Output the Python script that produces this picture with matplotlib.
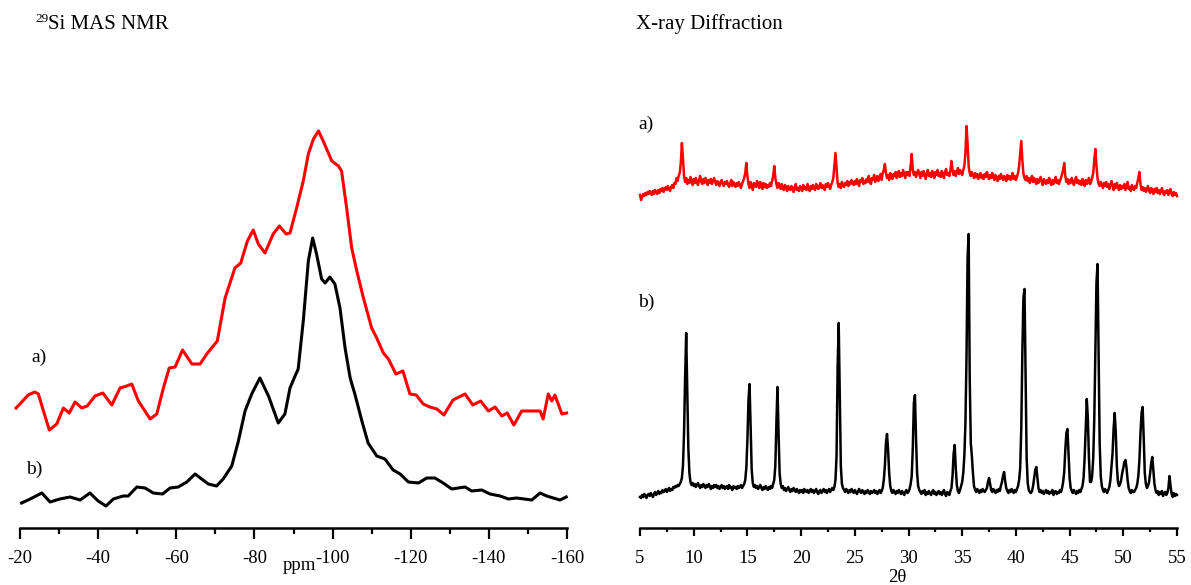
import numpy as np
import matplotlib
matplotlib.use("Agg")
import matplotlib.pyplot as plt
from matplotlib.ticker import MultipleLocator

plt.rcParams['font.family'] = ['Liberation Serif', 'DejaVu Serif']
plt.rcParams['axes.unicode_minus'] = False

# 29Si MAS NMR, sample a) (red, drawn with an offset)
nmr_ppm_a = [-19.0, -22.1, -23.8, -24.7, -26.0, -27.5, -29.4, -31.1, -32.6, -34.1,
             -35.8, -37.2, -39.2, -41.2, -43.5, -45.6, -47.3, -48.6, -50.3, -53.3,
             -55.0, -56.7, -58.2, -59.7, -61.6, -64.0, -66.1, -67.8, -70.5, -72.5,
             -75.0, -76.5, -78.2, -79.7, -81.0, -82.7, -84.8, -86.4, -88.1, -89.1,
             -90.8, -92.5, -93.8, -95.1, -96.4, -97.6, -99.8, -101.5, -102.3, -103.6,
             -104.9, -106.2, -107.9, -110.0, -111.3, -113.0, -114.3, -116.2, -118.0, -119.8,
             -121.4, -123.2, -124.9, -126.7, -128.5, -130.8, -133.9, -135.9, -137.9, -139.9,
             -141.6, -143.3, -144.7, -146.4, -148.4, -153.1, -153.9, -155.2, -156.1, -156.9,
             -158.7, -159.9]
nmr_int_a = [40, 53, 56, 54, 37, 18, 24, 40, 35, 46,
             40, 42, 52, 55, 43, 60, 62, 64, 47, 29,
             34, 60, 80, 81, 98, 84, 84, 94, 107, 150,
             180, 185, 207, 218, 204, 195, 214, 222, 214, 215,
             240, 267, 294, 309, 317, 307, 287, 282, 277, 240,
             200, 177, 150, 120, 110, 95, 89, 74, 77, 54,
             53, 44, 41, 39, 33, 48, 54, 43, 47, 37,
             41, 32, 35, 23, 37, 37, 29, 54, 47, 53,
             34, 35]

# 29Si MAS NMR, sample b) (black)
nmr_ppm_b = [-20.4, -22.6, -25.6, -27.7, -30.2, -32.8, -35.4, -37.9, -40.0, -42.0,
             -43.9, -46.4, -47.7, -49.9, -52.0, -54.1, -56.5, -58.4, -60.5, -62.7,
             -64.8, -66.5, -68.2, -70.3, -72.0, -74.2, -75.9, -77.6, -79.3, -81.4,
             -83.6, -86.1, -87.8, -89.1, -90.4, -91.2, -92.5, -93.8, -94.9, -95.9,
             -97.2, -98.1, -99.3, -100.6, -101.9, -103.2, -104.5, -105.7, -107.5, -109.1,
             -111.3, -113.4, -115.5, -117.3, -119.4, -122.0, -124.1, -126.2, -128.3, -130.5,
             -133.9, -135.6, -138.2, -140.3, -142.9, -145.0, -147.1, -151.0, -153.1, -154.8,
             -156.5, -158.2, -159.8]
nmr_int_b = [25, 29, 35, 26, 29, 31, 28, 35, 27, 22,
             29, 32, 32, 41, 40, 35, 34, 40, 41, 46,
             54, 49, 44, 42, 49, 62, 87, 117, 134, 150,
             132, 105, 114, 140, 152, 159, 207, 267, 290, 274,
             249, 245, 251, 244, 220, 180, 150, 134, 107, 85,
             72, 69, 58, 54, 46, 45, 50, 50, 45, 39,
             41, 37, 38, 34, 32, 29, 30, 28, 35, 32,
             30, 28, 31]

# XRD, 2theta from 5 to 55 in steps of 0.1 degree
two_theta = np.linspace(5, 55, 501)

xrd_a = [33, 28, 31, 34, 32, 35, 33, 36, 34, 37,
         35, 33, 37, 34, 38, 36, 34, 38, 35, 39,
         37, 40, 36, 39, 41, 38, 42, 39, 37, 41,
         43, 40, 45, 44, 50, 47, 52, 55, 65, 85,
         70, 52, 46, 50, 44, 48, 45, 51, 47, 43,
         49, 45, 50, 46, 43, 48, 52, 46, 44, 49,
         45, 50, 47, 43, 48, 45, 49, 44, 47, 50,
         46, 43, 47, 45, 42, 46, 48, 44, 42, 46,
         44, 47, 43, 41, 45, 48, 42, 46, 44, 41,
         45, 42, 46, 43, 40, 44, 47, 50, 55, 65,
         52, 44, 40, 46, 42, 38, 45, 43, 41, 47,
         44, 40, 46, 42, 39, 45, 41, 44, 40, 43,
         41, 45, 42, 47, 52, 62, 50, 44, 40, 45,
         42, 39, 44, 40, 38, 43, 41, 37, 42, 40,
         38, 42, 39, 36, 41, 44, 38, 40, 37, 42,
         40, 37, 43, 39, 41, 38, 44, 40, 37, 42,
         39, 43, 40, 38, 44, 41, 39, 42, 45, 40,
         43, 40, 38, 44, 41, 45, 42, 39, 43, 46,
         50, 62, 75, 60, 45, 41, 44, 40, 46, 43,
         41, 45, 43, 47, 42, 46, 44, 48, 45, 43,
         47, 44, 49, 45, 42, 48, 46, 50, 44, 47,
         45, 49, 46, 52, 47, 44, 50, 48, 53, 46,
         49, 52, 47, 50, 54, 48, 55, 58, 64, 55,
         50, 53, 48, 55, 51, 49, 54, 52, 56, 50,
         53, 57, 51, 55, 52, 58, 54, 50, 56, 53,
         56, 52, 62, 74, 58, 53, 56, 51, 55, 58,
         54, 50, 56, 52, 57, 53, 49, 55, 58, 52,
         55, 51, 57, 54, 50, 56, 53, 58, 52, 55,
         51, 57, 54, 50, 56, 59, 53, 55, 52, 57,
         67, 58, 53, 57, 52, 56, 60, 54, 58, 55,
         53, 58, 62, 75, 102, 85, 62, 55, 52, 56,
         53, 50, 55, 51, 54, 49, 52, 55, 50, 53,
         49, 54, 51, 56, 52, 49, 53, 50, 55, 51,
         48, 53, 50, 47, 52, 49, 54, 51, 48, 52,
         50, 47, 53, 49, 52, 48, 51, 55, 49, 52,
         48, 51, 55, 62, 75, 87, 68, 54, 50, 48,
         52, 47, 50, 45, 49, 52, 46, 50, 47, 44,
         49, 45, 48, 51, 46, 43, 49, 47, 44, 48,
         45, 50, 46, 43, 48, 44, 47, 51, 45, 48,
         44, 47, 50, 54, 58, 65, 52, 46, 49, 44,
         48, 45, 50, 46, 43, 47, 51, 45, 48, 44,
         47, 43, 49, 45, 42, 48, 44, 46, 50, 44,
         46, 50, 55, 68, 79, 62, 50, 44, 42, 46,
         43, 40, 45, 42, 46, 41, 44, 39, 43, 47,
         42, 38, 44, 40, 45, 41, 38, 43, 39, 42,
         40, 44, 38, 42, 46, 39, 41, 37, 43, 40,
         38, 42, 40, 45, 50, 56, 44, 38, 41, 37,
         40, 36, 39, 42, 37, 35, 40, 38, 34, 39,
         36, 40, 35, 38, 34, 37, 40, 35, 33, 37,
         35, 38, 33, 36, 39, 34, 32, 36, 33, 35,
         32]

xrd_b = [31, 30, 33, 31, 34, 32, 30, 33, 34, 32,
         35, 33, 31, 34, 36, 33, 35, 37, 34, 36,
         35, 38, 36, 37, 39, 36, 38, 40, 37, 39,
         38, 41, 40, 42, 41, 43, 42, 44, 46, 50,
         62, 95, 150, 195, 140, 80, 55, 46, 43, 45,
         42, 44, 41, 43, 45, 42, 40, 43, 41, 44,
         42, 40, 43, 41, 44, 42, 39, 42, 40, 43,
         41, 43, 40, 42, 39, 41, 43, 40, 42, 39,
         41, 42, 39, 43, 40, 41, 38, 42, 40, 41,
         39, 42, 40, 41, 43, 40, 42, 44, 48, 60,
         88, 128, 144, 100, 58, 45, 41, 43, 40, 42,
         39, 41, 43, 40, 38, 41, 39, 42, 40, 38,
         41, 39, 42, 40, 44, 48, 62, 105, 141, 95,
         55, 44, 40, 42, 38, 40, 37, 39, 41, 38,
         36, 39, 37, 40, 38, 36, 39, 37, 35, 38,
         36, 38, 35, 39, 37, 36, 38, 35, 37, 39,
         36, 38, 35, 37, 39, 36, 34, 37, 38, 35,
         37, 39, 36, 38, 35, 37, 39, 36, 38, 40,
         38, 41, 48, 72, 160, 205, 130, 62, 44, 40,
         38, 36, 39, 37, 35, 38, 36, 39, 37, 35,
         38, 36, 34, 37, 39, 36, 35, 38, 36, 34,
         37, 35, 38, 36, 34, 37, 35, 36, 38, 35,
         37, 34, 36, 38, 35, 37, 40, 48, 62, 85,
         94, 78, 55, 42, 37, 35, 38, 36, 34, 37,
         35, 38, 36, 34, 37, 35, 33, 36, 38, 35,
         36, 39, 44, 52, 80, 125, 133, 90, 55, 42,
         38, 36, 34, 37, 35, 38, 33, 36, 34, 37,
         35, 33, 36, 38, 34, 36, 33, 35, 37, 34,
         36, 33, 35, 38, 34, 32, 36, 35, 33, 37,
         40, 52, 74, 83, 60, 43, 37, 35, 38, 42,
         46, 55, 72, 105, 170, 270, 294, 150, 85, 72,
         55, 42, 38, 36, 39, 37, 35, 38, 36, 39,
         37, 36, 38, 40, 46, 50, 44, 38, 36, 39,
         37, 35, 38, 36, 39, 37, 42, 46, 52, 56,
         47, 40, 37, 35, 38, 36, 39, 37, 35, 38,
         36, 39, 42, 48, 60, 100, 175, 230, 239, 150,
         70, 45, 38, 36, 35, 37, 42, 50, 58, 61,
         50, 40, 36, 38, 35, 37, 34, 36, 38, 35,
         37, 34, 36, 35, 38, 33, 36, 37, 34, 36,
         35, 38, 36, 40, 46, 56, 78, 95, 99, 75,
         50, 40, 37, 35, 38, 36, 34, 37, 35, 38,
         36, 39, 42, 50, 70, 100, 129, 110, 70, 46,
         46, 52, 70, 110, 180, 245, 264, 170, 85, 52,
         42, 38, 36, 39, 37, 35, 38, 41, 48, 62,
         75, 100, 115, 95, 62, 46, 42, 44, 48, 55,
         60, 66, 68, 60, 48, 40, 37, 35, 38, 36,
         36, 38, 40, 44, 52, 68, 95, 115, 121, 90,
         55, 44, 40, 42, 46, 55, 65, 71, 58, 44,
         38, 35, 37, 33, 36, 34, 37, 32, 35, 36,
         33, 35, 40, 52, 42, 34, 31, 35, 32, 34,
         33]

nmr_offset = 80
xrd_offset = 300

W, H = 1191, 585
fig = plt.figure(figsize=(W / 100, H / 100), dpi=100)
ax1 = fig.add_axes([20 / W, 57 / H, 547 / W, 428 / H])
ax2 = fig.add_axes([640 / W, 57 / H, 537 / W, 428 / H])

ax1.plot(nmr_ppm_a, np.array(nmr_int_a) + nmr_offset, color='red', lw=2.2,
         clip_on=False, solid_joinstyle='round')
ax1.plot(nmr_ppm_b, nmr_int_b, color='black', lw=2.2,
         clip_on=False, solid_joinstyle='round')
ax1.set_xlim(-20, -160)
ax1.xaxis.set_major_locator(MultipleLocator(20))
ax1.xaxis.set_minor_locator(MultipleLocator(10))
ax1.tick_params(axis='x', which='major', length=8, width=1.6, direction='out',
                labelsize=13.5, pad=8)
ax1.tick_params(axis='x', which='minor', length=4.5, width=1.6, direction='out')

ax2.plot(two_theta, np.array(xrd_a) + xrd_offset, color='red', lw=1.8, clip_on=False)
ax2.plot(two_theta, xrd_b, color='black', lw=1.8, clip_on=False)
ax2.set_xlim(5, 55)
ax2.xaxis.set_major_locator(MultipleLocator(5))
ax2.xaxis.set_minor_locator(MultipleLocator(2.5))
ax2.tick_params(axis='x', which='major', length=5.5, width=1.6, direction='out',
                labelsize=13.5, pad=10)
ax2.tick_params(axis='x', which='minor', length=3, width=1.6, direction='out')

for ax in (ax1, ax2):
    ax.set_ylim(0, 428)
    ax.set_yticks([])
    for side in ('left', 'right', 'top'):
        ax.spines[side].set_visible(False)
    ax.spines['bottom'].set_linewidth(1.8)

# titles and labels
fig.text(35 / W, 1 - 22 / H, '29', fontsize=9.5, va='baseline')
fig.text(48 / W, 1 - 29 / H, 'Si MAS NMR', fontsize=15, va='baseline')
fig.text(636 / W, 1 - 29 / H, 'X-ray Diffraction', fontsize=15, va='baseline')

fig.text(31 / W, 1 - 362 / H, 'a)', fontsize=14, va='baseline')
fig.text(26 / W, 1 - 474 / H, 'b)', fontsize=14, va='baseline')
fig.text(638 / W, 1 - 129 / H, 'a)', fontsize=14, va='baseline')
fig.text(638 / W, 1 - 307 / H, 'b)', fontsize=14, va='baseline')

fig.text(299 / W, 1 - 566 / H, 'ppm', fontsize=13.5, ha='center', va='center')
fig.text(897 / W, 1 - 577 / H, '2θ', fontsize=13.5, ha='center', va='center')

fig.savefig('out.png', dpi=100)
